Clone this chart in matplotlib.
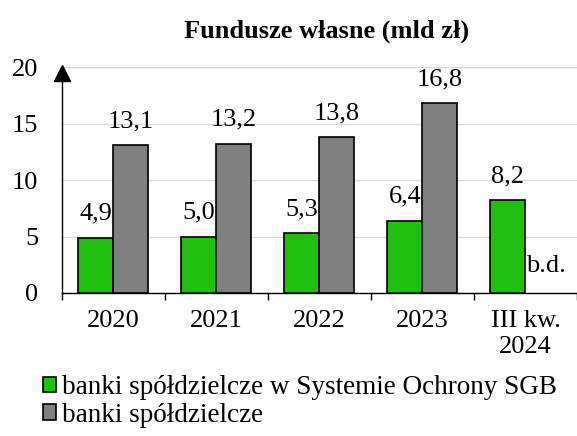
import numpy as np
import matplotlib
matplotlib.use('Agg')
import matplotlib.pyplot as plt
import matplotlib.transforms as mtransforms

plt.rcParams['font.family'] = ['Liberation Serif', 'DejaVu Serif']

categories = ['2020', '2021', '2022', '2023', 'III kw.\n2024']
sgb_vals = [4.9, 5.0, 5.3, 6.4, 8.2]
bs_vals = [13.1, 13.2, 13.8, 16.8, np.nan]   # 2024: b.d. (brak danych)
series_names = ['banki spółdzielcze w Systemie Ochrony SGB', 'banki spółdzielcze']
title = 'Fundusze własne (mld zł)'

green = '#20c00f'
gray = '#808080'

fig = plt.figure(figsize=(5.77, 4.36), dpi=100)
ax = fig.add_axes([0.107, 0.328, 0.893, 0.518])

x = np.arange(len(categories))
w = 0.34
bs_arr = np.array(bs_vals)
ok = ~np.isnan(bs_arr)
b1 = ax.bar(x - w / 2, sgb_vals, w, color=green, edgecolor='black', linewidth=1.2,
            label=series_names[0], zorder=3)
b2 = ax.bar(x[ok] + w / 2, bs_arr[ok], w, color=gray, edgecolor='black', linewidth=1.2,
            label=series_names[1], zorder=3)

fs = 19
for xi, v in zip(x, sgb_vals):
    ax.annotate(f'{v:.1f}'.replace('.', ','), (xi - w / 2, v), xytext=(0, 13),
                textcoords='offset points', ha='center', va='baseline', fontsize=fs)
for xi, v in zip(x, bs_vals):
    if np.isnan(v):
        ax.annotate('b.d.', (xi + w / 2, 0), xytext=(2, 15),
                    textcoords='offset points', ha='center', va='baseline', fontsize=fs)
    else:
        ax.annotate(f'{v:.1f}'.replace('.', ','), (xi + w / 2, v), xytext=(0, 13),
                    textcoords='offset points', ha='center', va='baseline', fontsize=fs)

ax.set_xlim(-0.5, len(categories) - 0.5)
ax.set_ylim(0, 20)
ax.set_yticks([0, 5, 10, 15, 20])
ax.grid(axis='y', color='#d9d9d9', linewidth=1.0, zorder=0)
ax.set_xticks(x)
ax.set_xticklabels(categories, fontsize=fs, linespacing=1.25)
ax.set_xticks(np.arange(-0.5, len(categories), 1.0), minor=True)
ax.tick_params(axis='x', which='major', length=0, pad=12)
ax.tick_params(axis='x', which='minor', length=5, direction='out', width=1)
ax.tick_params(axis='y', length=0, labelsize=fs, pad=17)

for s in ['top', 'right']:
    ax.spines[s].set_visible(False)
ax.spines['left'].set_linewidth(1.0)
ax.spines['bottom'].set_linewidth(1.0)
# arrow head on top of y axis
arr_tr = ax.transAxes + mtransforms.ScaledTranslation(0, -4 / 72, fig.dpi_scale_trans)
ax.plot([0], [1], marker='^', markersize=11, color='black', transform=arr_tr,
        clip_on=False, zorder=5)

fig.text(0.566, 0.928, title, ha='center', va='center', fontsize=19, fontweight='bold')

fig.legend(handles=[b1, b2], labels=series_names, loc='upper left',
           bbox_to_anchor=(0.074, 0.14), frameon=False, fontsize=19.5,
           handlelength=0.5, handleheight=0.5, handletextpad=0.2,
           labelspacing=0.1, borderaxespad=0, borderpad=0)

fig.savefig('out.png', dpi=100)
